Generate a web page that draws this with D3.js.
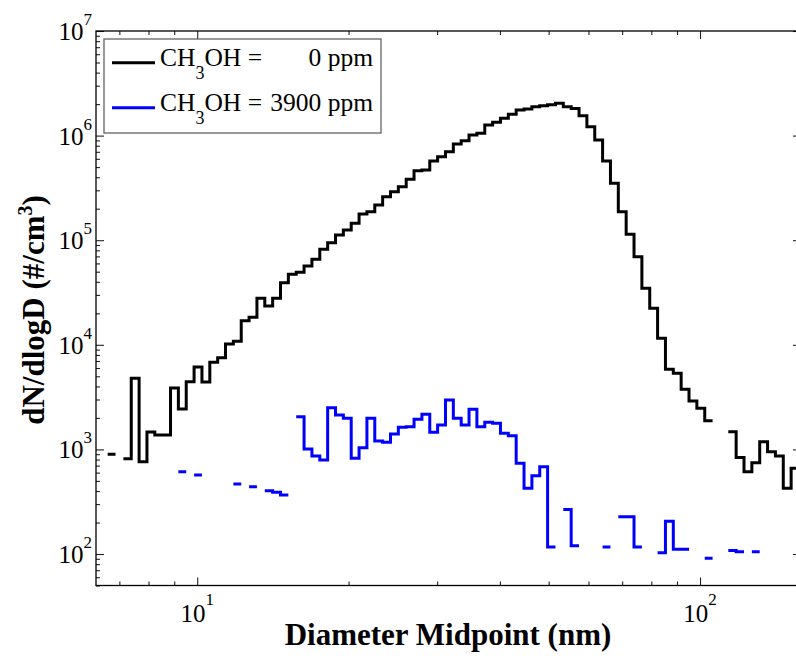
<!DOCTYPE html>
<html lang="en">
<head>
<meta charset="UTF-8">
<script src="https://d3js.org/d3.v7.min.js"></script>
<style>
  body { margin: 0; background: #fff; }
  svg text { font-family: "Liberation Serif", "Times New Roman", serif; fill: #000; }
</style>
</head>
<body>
<svg width="796" height="662"></svg>
<script>
// SMPS bin midpoints (nm), 64 channels per decade
var diameters = [6.756, 7.003, 7.260, 7.526, 7.802, 8.087, 8.384, 8.691, 9.009, 9.339,
  9.681, 10.036, 10.404, 10.785, 11.180, 11.589, 12.014, 12.454, 12.910, 13.383,
  13.873, 14.381, 14.908, 15.454, 16.020, 16.607, 17.216, 17.847, 18.501, 19.179,
  19.881, 20.610, 21.365, 22.147, 22.958, 23.799, 24.671, 25.574, 26.511, 27.482,
  28.489, 29.533, 30.614, 31.737, 32.899, 34.104, 35.353, 36.648, 37.991, 39.382,
  40.825, 42.321, 43.871, 45.478, 47.144, 48.871, 50.661, 52.516, 54.440, 56.437,
  58.504, 60.647, 62.868, 65.171, 67.558, 70.033, 72.598, 75.260, 78.017, 80.874,
  83.836, 86.907, 90.090, 93.390, 96.811, 100.36, 104.04, 107.85, 111.80, 115.89,
  120.14, 124.54, 129.10, 133.83, 138.73, 143.81, 149.08, 154.54];

// dN/dlogD (#/cm3), null = no data in that bin
var methanol0 = [898, null, 815, 4790, 763, 1467, 1374, 1374, 3865, 2432,
  4436, 6139, 4406, 6808, 7535, 10180, 10800, 16980, 18330, 27860,
  23500, 27860, 39260, 47220, 49360, 56620, 65620, 81800, 94700, 112200,
  125300, 145200, 177900, 187200, 217300, 260800, 291000, 324600, 381700, 461600,
  468900, 571600, 628400, 701700, 831200, 894000, 1013000, 1052000, 1262000, 1340000,
  1463000, 1598000, 1758000, 1796000, 1890000, 1930000, 1970000, 2040000, 1890000, 1820000,
  1549000, 1216000, 907900, 571600, 349800, 187000, 113700, 69500, 34680, 22340,
  11530, 5834, 5340, 3757, 2904, 2470, 1879, null, null, 1476,
  839, 612, 747, 1186, 951, 865, 425, 659];

var methanol3900 = [null, null, null, null, null, null, null, null, null, 612,
  null, 569, null, null, null, null, 467, null, 440, null,
  403, 389, 367, null, 2056, 1009, 865, 793, 2505, 2133,
  1982, 822, 1039, 1982, 1203, 1169, 1403, 1626, 1648, 1940,
  2167, 1456, 1710, 2966, 1982, 1710, 2415, 1648, 1816, 1777,
  1425, 1351, 736, 425, 561, 684, 117, null, 267, 120,
  null, null, null, 117, null, 227, 227, 117, null, null,
  103, 206, 111, 111, null, null, 91, null, null, 108,
  105, null, 105, null, null, null, null, null];

var seriesColors = ["#000000", "#0000ff"];
var legendValues = ["0 ppm", "3900 ppm"];
var xMajor = [10, 100];
var yMajor = [1e2, 1e3, 1e4, 1e5, 1e6, 1e7];

var svg = d3.select("svg"),
    margin = {top: 31, left: 96},
    width = 705,
    height = 554.5,
    g = svg.append("g").attr("transform", "translate(" + margin.left + "," + margin.top + ")");

svg.insert("rect", ":first-child").attr("width", 796).attr("height", 662).attr("fill", "#fff");

var x = d3.scaleLog().domain([6.29, 158.8]).range([0, width]);
var y = d3.scaleLog().domain([50, 1e7]).range([height, 0]);

g.append("clipPath").attr("id", "plotclip")
  .append("rect").attr("width", width).attr("height", height);

// turn bin midpoints into stair points (left edge, right edge) with gaps for empty bins
function stairs(values) {
  var pts = [];
  values.forEach(function(v, i) {
    var d = diameters[i];
    var prev = i > 0 ? diameters[i - 1] : d * d / diameters[i + 1];
    var next = i < diameters.length - 1 ? diameters[i + 1] : d * d / diameters[i - 1];
    if (v === null) { pts.push(null); return; }
    pts.push([Math.sqrt(prev * d), v]);
    pts.push([Math.sqrt(d * next), v]);
  });
  return pts;
}

var line = d3.line()
  .defined(function(p) { return p !== null; })
  .x(function(p) { return x(p[0]); })
  .y(function(p) { return y(p[1]); });

[methanol0, methanol3900].forEach(function(vals, i) {
  g.append("path")
    .attr("clip-path", "url(#plotclip)")
    .attr("d", line(stairs(vals)))
    .attr("fill", "none")
    .attr("stroke", seriesColors[i])
    .attr("stroke-width", 3)
    .attr("stroke-linejoin", "miter");
});

// axes: ticks on all four sides, pointing inward
function isMajor(d) { return Math.abs(Math.log10(d) - Math.round(Math.log10(d))) < 1e-9; }
var xMinor = x.ticks().filter(function(d) { return !isMajor(d); });
var yMinor = y.ticks().filter(function(d) { return !isMajor(d); });

var sides = [
  {axis: d3.axisBottom(x), t: "translate(0," + height + ")", major: xMajor, minor: xMinor},
  {axis: d3.axisTop(x), t: "translate(0,0)", major: xMajor, minor: xMinor},
  {axis: d3.axisLeft(y), t: "translate(0,0)", major: yMajor, minor: yMinor},
  {axis: d3.axisRight(y), t: "translate(" + width + ",0)", major: yMajor, minor: yMinor}
];
sides.forEach(function(s) {
  [[s.major, 8], [s.minor, 4]].forEach(function(set) {
    var a = g.append("g").attr("transform", s.t)
      .call(s.axis.tickValues(set[0]).tickSize(-set[1]).tickFormat(""));
    a.select(".domain").remove();
    a.selectAll(".tick line").attr("stroke", "#222").attr("stroke-width", 1.1);
  });
});

g.append("rect")
  .attr("width", width).attr("height", height)
  .attr("fill", "none").attr("stroke", "#000").attr("stroke-width", 1.3);

// tick labels 10^n
xMajor.forEach(function(d) {
  var t = g.append("text")
    .attr("x", x(d)).attr("y", height + 36)
    .attr("text-anchor", "middle").attr("font-size", 25).text("10");
  t.append("tspan").attr("dy", -17).attr("font-size", 17).text(Math.round(Math.log10(d)));
});
yMajor.forEach(function(d) {
  var t = g.append("text")
    .attr("x", -4).attr("y", y(d) + 9)
    .attr("text-anchor", "end").attr("font-size", 25).text("10");
  t.append("tspan").attr("dy", -15).attr("font-size", 17).text(Math.round(Math.log10(d)));
});

// axis titles
svg.append("text")
  .attr("x", 448).attr("y", 645)
  .attr("text-anchor", "middle")
  .attr("font-size", 31).attr("font-weight", "bold")
  .text("Diameter Midpoint (nm)");

var yt = svg.append("text")
  .attr("transform", "translate(44,310) rotate(-90)")
  .attr("text-anchor", "middle")
  .attr("font-size", 31).attr("font-weight", "bold")
  .text("dN/dlogD (#/cm");
yt.append("tspan").attr("dy", -12).attr("font-size", 20).text("3");
yt.append("tspan").attr("dy", 12).text(")");

// legend
var legend = svg.append("g");
legend.append("rect")
  .attr("x", 104).attr("y", 39).attr("width", 277).attr("height", 94)
  .attr("fill", "#fff").attr("stroke", "#6e6e6e").attr("stroke-width", 1.4);

legendValues.forEach(function(v, i) {
  var cy = 62.7 + i * 45;
  legend.append("line")
    .attr("x1", 112).attr("x2", 155).attr("y1", cy).attr("y2", cy)
    .attr("stroke", seriesColors[i]).attr("stroke-width", 3);
  var t = legend.append("text")
    .attr("x", 160).attr("y", cy + 3.5).attr("font-size", 25.5).text("CH");
  t.append("tspan").attr("dy", 13).attr("font-size", 18).text("3");
  t.append("tspan").attr("dy", -13).text("OH =");
  legend.append("text")
    .attr("x", 373).attr("y", cy + 3.5).attr("text-anchor", "end")
    .attr("font-size", 25.5).text(v);
});
</script>
</body>
</html>
